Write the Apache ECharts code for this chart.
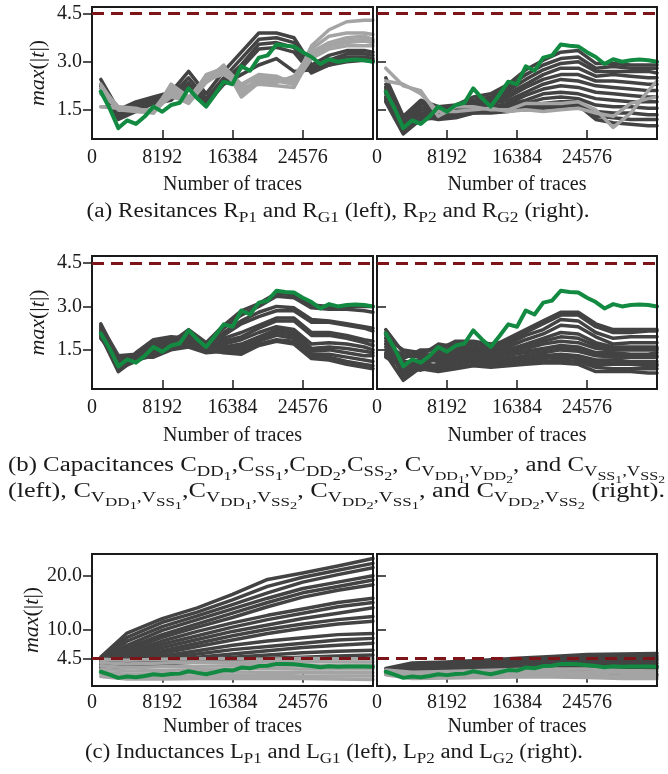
<!DOCTYPE html>
<html>
<head>
<meta charset="utf-8">
<script src="https://cdn.jsdelivr.net/npm/echarts@6/dist/echarts.min.js"></script>
<style>
html,body{margin:0;padding:0;background:#fff;}
#eChart{width:668px;height:774px;}
</style>
</head>
<body>
<div id="eChart"></div>
<script>
// number of traces (x positions)
var xsFine = [1024,2048,3072,4096,5120,6144,7168,8192,9216,10240,11264,12288,13312,14336,15360,16384,
  17408,18432,19456,20480,21504,22528,23552,24576,25600,26624,27648,28672,29696,30720,31744,32768];
var xsMid = [1024,3072,5120,7168,9216,11264,13312,15360,17408,19456,21504,23552,25600,27648,29696,31744,32768];
var xsCoarse = [1024,4096,8192,12288,16384,20480,24576,28672,32768];

var xTicks = [0, 8192, 16384, 24576];
var yTicksAB = [1.5, 3.0, 4.5];
var yTicksC = [4.5, 10.0, 20.0];
var threshold = 4.5;

// the green trace (same in every panel)
var greenTrace = [2.07,1.55,0.93,1.17,1.06,1.29,1.60,1.44,1.65,1.72,2.17,1.86,1.60,1.98,2.38,2.30,
  2.86,2.72,3.13,3.20,3.54,3.50,3.48,3.30,3.15,2.93,3.08,3.00,3.05,3.07,3.05,3.00];

// (a) left: R_P1 / R_G1
var aLeftDark = [
  [2.45,1.50,1.75,1.90,2.05,2.70,2.00,2.70,3.30,3.90,3.90,3.75,2.90,3.20,3.35,3.35,3.30],
  [2.30,1.35,1.65,1.85,1.95,2.50,1.85,2.50,3.10,3.70,3.75,3.60,2.80,3.05,3.25,3.25,3.20],
  [2.20,1.25,1.55,1.80,1.90,2.35,1.70,2.40,2.90,3.55,3.60,3.45,2.75,2.95,3.15,3.15,3.10],
  [2.20,1.30,1.50,1.75,1.85,2.20,1.75,2.30,2.60,2.90,3.10,2.70,2.75,2.90,3.05,3.10,3.05],
  [2.25,1.20,1.45,1.70,1.80,2.30,1.65,2.30,2.80,3.40,3.45,3.30,2.65,2.90,3.00,3.05,3.00]
];
var aLeftLight = [
  [1.60,1.55,1.50,1.50,1.90,1.80,2.50,2.85,2.30,2.60,2.55,2.30,3.50,4.00,4.25,4.30,4.30],
  [2.30,1.50,1.45,1.45,2.10,1.75,2.60,2.80,2.10,2.45,2.45,2.45,3.40,3.80,3.90,3.90,3.85],
  [2.20,1.60,1.55,1.40,2.30,1.90,2.40,2.90,1.90,2.35,2.35,2.55,3.30,3.60,3.75,3.80,3.70],
  [2.00,1.55,1.50,1.45,1.95,1.70,2.35,2.70,2.20,2.30,2.25,2.20,3.20,3.50,3.60,3.65,3.60],
  [1.60,1.60,1.45,1.40,2.00,1.85,2.55,2.75,2.00,2.50,2.40,2.30,3.10,3.40,3.50,3.50,3.50],
  [2.10,1.50,1.50,1.50,2.20,1.80,2.45,2.60,2.25,2.55,2.50,2.40,3.25,3.55,3.65,3.70,3.65]
];
// (a) right: R_P2 / R_G2
var aRightDark = [
  [2.50,1.30,1.80,1.60,1.65,1.90,2.00,2.30,2.75,3.05,3.30,3.35,2.95,2.95,2.90,2.90,2.90],
  [2.30,1.20,1.70,1.55,1.60,1.80,1.90,2.20,2.60,2.90,3.10,3.15,2.80,2.85,2.80,2.80,2.80],
  [2.20,1.10,1.60,1.50,1.55,1.75,1.85,2.10,2.45,2.75,2.95,3.00,2.70,2.70,2.70,2.70,2.65],
  [2.10,1.00,1.50,1.45,1.50,1.70,1.80,2.00,2.30,2.60,2.80,2.80,2.55,2.60,2.55,2.50,2.50],
  [2.00,0.95,1.40,1.40,1.45,1.65,1.75,1.90,2.20,2.45,2.60,2.60,2.40,2.40,2.35,2.30,2.30],
  [1.90,0.90,1.35,1.35,1.40,1.60,1.70,1.80,2.05,2.30,2.45,2.40,2.25,2.20,2.15,2.10,2.10],
  [1.85,0.85,1.30,1.30,1.35,1.55,1.60,1.70,1.95,2.15,2.25,2.20,2.05,2.00,1.95,1.90,1.90],
  [1.80,0.80,1.25,1.30,1.30,1.50,1.55,1.65,1.80,2.00,2.05,2.00,1.85,1.80,1.75,1.75,1.75],
  [1.75,0.75,1.20,1.25,1.30,1.45,1.50,1.60,1.70,1.85,1.90,1.85,1.65,1.60,1.60,1.55,1.55],
  [1.90,0.80,1.30,1.20,1.25,1.40,1.45,1.50,1.60,1.70,1.75,1.75,1.45,1.40,1.40,1.35,1.35],
  [2.10,0.90,1.25,1.25,1.30,1.40,1.40,1.45,1.55,1.60,1.65,1.70,1.30,1.25,1.20,1.20,1.20],
  [2.20,1.00,1.30,1.30,1.35,1.45,1.45,1.50,1.50,1.55,1.60,1.65,1.20,1.10,1.05,1.00,1.00]
];
var aRightLight = [
  [2.80,2.25,2.10,1.30,1.60,1.60,1.50,1.50,1.70,1.70,1.70,1.75,1.50,0.95,1.40,2.10,2.40],
  [2.40,2.30,2.00,1.45,1.45,1.50,1.55,1.45,1.50,1.45,1.50,1.55,1.40,1.30,1.70,1.85,1.90]
];

// (b) left: capacitances
var bLeftDark = [
  [2.10,1.00,1.20,1.60,1.75,2.20,1.75,2.35,2.85,3.10,3.45,3.40,3.05,3.00,3.00,3.00,3.00],
  [2.20,0.95,1.25,1.55,1.70,2.10,1.70,2.25,2.70,3.00,3.35,3.30,2.95,2.90,2.90,2.85,2.80],
  [2.30,1.10,1.30,1.70,1.80,2.00,1.60,2.10,2.50,2.80,3.00,2.95,2.55,2.50,2.40,2.30,2.25],
  [2.00,1.05,1.35,1.80,1.85,2.05,1.65,2.00,2.40,2.65,2.85,2.85,2.45,2.45,2.35,2.25,2.15],
  [2.40,1.20,1.25,1.75,1.90,1.95,1.55,1.90,2.10,2.35,2.60,2.60,2.10,2.10,2.00,1.85,1.80],
  [2.25,0.80,1.40,1.85,1.95,1.90,1.50,1.80,1.95,2.25,2.50,2.50,2.00,2.00,1.90,1.75,1.65],
  [1.90,1.15,1.30,1.65,1.65,1.85,1.45,1.70,1.85,2.10,2.30,2.20,1.70,1.75,1.70,1.60,1.50],
  [2.00,0.75,1.20,1.50,1.60,1.80,1.50,1.60,1.70,1.95,2.20,2.10,1.55,1.60,1.55,1.45,1.40],
  [2.35,1.30,1.35,1.45,1.55,1.75,1.55,1.55,1.60,1.90,2.10,2.00,1.45,1.50,1.40,1.30,1.30],
  [2.10,0.90,1.15,1.30,1.60,1.65,1.45,1.50,1.50,1.80,2.00,1.90,1.35,1.35,1.25,1.15,1.10],
  [1.95,1.00,1.25,1.25,1.50,1.60,1.40,1.45,1.45,1.70,1.85,1.80,1.25,1.25,1.10,1.00,0.95],
  [2.15,0.85,1.10,1.40,1.55,1.70,1.50,1.40,1.35,1.65,1.80,1.70,1.20,1.15,1.00,0.90,0.85]
];
// (b) right
var bRightDark = [
  [1.90,1.50,1.40,1.60,1.70,1.70,1.60,1.90,2.20,2.50,2.80,2.80,2.40,2.20,2.20,2.20,2.20],
  [1.70,1.20,1.50,1.50,1.80,1.80,1.70,1.80,2.10,2.40,2.70,2.70,2.30,2.10,2.10,2.15,2.15],
  [2.20,1.40,1.30,1.70,1.60,1.75,1.60,1.70,2.00,2.20,2.55,2.50,2.10,1.90,1.95,1.95,1.95],
  [1.50,0.90,1.20,1.40,1.65,1.60,1.50,1.60,1.85,2.05,2.35,2.30,1.95,1.70,1.75,1.75,1.75],
  [1.70,1.30,1.25,1.45,1.55,1.55,1.45,1.50,1.65,1.80,1.95,1.90,1.65,1.55,1.55,1.55,1.55],
  [2.10,0.60,1.10,1.30,1.50,1.50,1.40,1.50,1.70,1.90,2.10,2.05,1.75,1.60,1.60,1.60,1.60],
  [1.30,1.00,1.00,1.20,1.40,1.45,1.30,1.40,1.55,1.70,1.80,1.75,1.55,1.50,1.50,1.50,1.50],
  [1.80,0.70,1.20,1.10,1.30,1.35,1.25,1.30,1.45,1.55,1.65,1.60,1.40,1.40,1.35,1.35,1.40],
  [1.90,1.10,1.05,1.25,1.35,1.40,1.35,1.35,1.40,1.50,1.60,1.55,1.35,1.30,1.30,1.30,1.30],
  [1.40,1.10,0.90,1.00,1.20,1.30,1.20,1.20,1.30,1.40,1.50,1.45,1.30,1.25,1.25,1.25,1.25],
  [2.00,0.50,1.10,0.90,1.10,1.20,1.10,1.10,1.20,1.30,1.35,1.30,1.15,1.15,1.10,1.10,1.10],
  [1.25,0.90,0.80,0.95,1.05,1.15,1.00,1.10,1.15,1.25,1.30,1.25,1.10,1.05,1.05,1.00,1.00],
  [1.60,0.80,0.95,0.85,1.00,1.10,1.05,1.05,1.10,1.20,1.25,1.20,1.00,1.00,1.00,0.95,0.95],
  [1.35,0.45,0.90,0.80,0.90,1.00,0.95,1.00,1.05,1.10,1.15,1.10,0.90,0.85,0.85,0.85,0.85],
  [1.50,0.70,0.85,0.75,0.85,0.95,0.90,0.95,1.00,1.05,1.05,1.00,0.75,0.75,0.75,0.70,0.70]
];

// (c) left: L_P1 / L_G1
var cLeftDark = [
  [4.8,9.3,12.0,14.0,16.5,19.3,20.5,21.8,23.2],
  [4.5,8.5,11.3,13.2,15.5,18.0,19.7,21.0,22.3],
  [4.2,7.8,10.5,12.5,14.6,16.8,18.8,20.2,21.5],
  [4.0,7.0,9.8,11.8,13.8,15.8,17.6,18.8,20.0],
  [3.8,6.5,9.0,11.0,13.0,15.0,16.8,18.0,19.2],
  [3.6,6.0,8.5,10.4,12.2,14.2,16.0,17.3,18.3],
  [3.5,5.6,7.8,9.6,11.2,12.6,13.8,15.0,15.8],
  [3.4,5.2,7.2,8.8,10.4,11.8,13.0,14.2,15.0],
  [3.3,4.8,6.6,8.1,9.6,10.8,12.0,13.0,14.0],
  [3.2,4.5,6.0,7.4,8.8,10.0,11.0,11.8,12.4],
  [3.1,4.2,5.5,6.8,8.0,9.2,10.2,11.0,11.5],
  [3.0,3.9,5.0,6.0,7.0,7.8,8.4,9.0,9.2],
  [2.9,3.6,4.6,5.4,6.2,6.8,7.4,8.0,8.3],
  [2.8,3.4,4.2,4.8,5.4,6.0,6.6,7.0,7.4],
  [2.7,3.2,3.8,4.3,4.8,5.2,5.6,5.9,6.1],
  [2.6,3.0,3.5,3.9,4.3,4.6,4.8,5.0,5.2]
];
var cLeftLight = [
  [4.4,4.2,4.4,4.5,4.5,4.4,4.6,4.5,4.5],
  [3.8,3.5,3.7,3.9,3.8,3.9,4.0,3.9,3.9],
  [3.2,2.8,3.0,3.1,3.2,3.3,3.3,3.2,3.3],
  [2.6,2.2,2.3,2.5,2.6,2.7,2.6,2.6,2.6],
  [2.0,1.6,1.7,1.9,2.0,2.0,2.0,1.9,1.9],
  [1.6,1.1,1.2,1.3,1.4,1.4,1.3,1.3,1.3],
  [1.2,0.7,0.7,0.8,0.8,0.8,0.8,0.7,0.6]
];
// (c) right: L_P2 / L_G2
var cRightDark = [
  [2.7,3.7,3.9,4.2,4.6,4.9,5.3,5.4,5.5],
  [2.5,3.4,3.6,3.9,4.2,4.5,4.8,5.0,5.0],
  [2.3,3.1,3.3,3.6,3.9,4.1,4.4,4.5,4.6],
  [2.1,2.8,3.0,3.3,3.6,3.8,4.0,4.1,4.2],
  [2.0,2.5,2.7,3.0,3.2,3.4,3.6,3.6,3.7],
  [1.9,2.2,2.4,2.6,2.8,3.0,3.1,3.2,3.2],
  [1.8,1.9,2.0,2.2,2.3,2.5,2.6,2.6,2.7],
  [1.6,1.3,1.4,1.5,1.6,1.7,1.6,1.5,1.5]
];
var cRightLight = [
  [2.4,2.0,2.1,2.3,2.5,2.6,2.6,2.3,2.2],
  [2.0,1.5,1.6,1.8,2.0,2.1,2.0,1.8,1.7],
  [1.7,1.1,1.2,1.4,1.5,1.6,1.5,1.2,1.2],
  [1.5,0.8,0.9,1.0,1.1,1.1,1.0,0.8,0.8]
];

var FONT = 'Liberation Serif';
var INK = '#1a1a1a';
var DARK = '#434343';
var LIGHT = '#a4a4a4';
var GREEN = '#138a41';
var RED = '#7d1518';

var panels = [
  {top: 7,   height: 132, min: 0.59, max: 4.71, ticks: yTicksAB, nameGap: 36, margin: 9,
   left: [aLeftDark, xsMid, aLeftLight, xsMid], right: [aRightDark, xsMid, aRightLight, xsMid]},
  {top: 256, height: 133, min: 0.15, max: 4.74, ticks: yTicksAB, nameGap: 37, margin: 9,
   left: [bLeftDark, xsMid, [], xsMid], right: [bRightDark, xsMid, [], xsMid]},
  {top: 554, height: 132, min: -0.59, max: 24.05, ticks: yTicksC, nameGap: 31, margin: 7,
   left: [cLeftDark, xsCoarse, cLeftLight, xsCoarse], right: [cRightDark, xsCoarse, cRightLight, xsCoarse]}
];

var grids = [], xAxes = [], yAxes = [], series = [];

function traceSeries(list, xs, color, width, ax) {
  list.forEach(function (ys) {
    series.push({
      type: 'line', xAxisIndex: ax, yAxisIndex: ax, symbol: 'none', silent: true,
      data: xs.map(function (x, i) { return [x, ys[i]]; }),
      lineStyle: {color: color, width: width, cap: 'round', join: 'round'}
    });
  });
}

panels.forEach(function (p) {
  [0, 1].forEach(function (side) {
    var ax = grids.length;
    grids.push({
      left: side === 0 ? 92 : 377, width: side === 0 ? 281 : 280,
      top: p.top, height: p.height,
      show: true, borderColor: INK, borderWidth: 2, z: 5
    });
    xAxes.push({
      gridIndex: ax, type: 'value', min: 0, max: 32768,
      name: 'Number of traces', nameLocation: 'middle', nameGap: p.nameGap,
      nameTextStyle: {fontFamily: FONT, fontSize: 20, color: INK},
      axisLine: {show: false}, splitLine: {show: false},
      axisTick: {show: true, inside: true, length: 9, customValues: xTicks,
        lineStyle: {color: INK, width: 1.5}},
      axisLabel: {customValues: xTicks, fontFamily: FONT, fontSize: 20, color: INK, margin: p.margin,
        formatter: function (v) { return String(v); }}
    });
    yAxes.push({
      gridIndex: ax, type: 'value', min: p.min, max: p.max,
      name: side === 0 ? '{i|max}(|{i|t}|)' : '', nameLocation: 'middle', nameGap: 43,
      nameRotate: 90,
      nameTextStyle: {fontFamily: FONT, fontSize: 22, color: INK,
        rich: {i: {fontFamily: FONT, fontSize: 22, fontStyle: 'italic', color: INK}}},
      axisLine: {show: false}, splitLine: {show: false},
      axisTick: {show: true, inside: side === 1, length: 9, customValues: p.ticks,
        lineStyle: {color: INK, width: 1.5}},
      axisLabel: {show: side === 0, customValues: p.ticks, fontFamily: FONT, fontSize: 20,
        color: INK, margin: 10, formatter: function (v) { return v.toFixed(1); }}
    });
    var cfg = side === 0 ? p.left : p.right;
    traceSeries(cfg[0], cfg[1], DARK, 3.5, ax);
    traceSeries(cfg[2], cfg[3], LIGHT, 3.5, ax);
    series.push({
      type: 'line', xAxisIndex: ax, yAxisIndex: ax, symbol: 'none', silent: true, z: 3,
      data: xsFine.map(function (x, i) { return [x, greenTrace[i]]; }),
      lineStyle: {color: GREEN, width: 4, cap: 'round', join: 'round'}
    });
    series.push({
      type: 'line', xAxisIndex: ax, yAxisIndex: ax, data: [], z: 4, silent: true,
      markLine: {symbol: 'none', silent: true, animation: false, label: {show: false},
        lineStyle: {color: RED, width: 3, type: [12, 7]},
        data: [{yAxis: threshold}]}
    });
  });
});

// captions: measured, then stretched horizontally to the width they take in the figure
var SIZES = {base: 20, s: 15, t: 13, u: 11};
var measureCtx = document.createElement('canvas').getContext('2d');
function textWidth(str, size) {
  measureCtx.font = size + 'px "' + FONT + '"';
  return measureCtx.measureText(str).width;
}
function naturalWidth(text) {
  var re = /\{(\w)\|([^}]*)\}|([^{]+)/g, m, w = 0;
  while ((m = re.exec(text))) {
    w += m[1] ? textWidth(m[2], SIZES[m[1]]) : textWidth(m[3], SIZES.base);
  }
  return w;
}
function caption(text, x, y, align, target) {
  return {type: 'text', x: x, y: y, silent: true, scaleX: target / naturalWidth(text),
    style: {text: text, fontFamily: FONT, fontSize: SIZES.base, fill: INK,
      align: align, verticalAlign: 'middle', textAlign: align, textVerticalAlign: 'middle',
      rich: {
        s: {fontFamily: FONT, fontSize: SIZES.s, lineHeight: SIZES.s, padding: [12, 0, 0, 0], color: INK},
        t: {fontFamily: FONT, fontSize: SIZES.t, lineHeight: SIZES.t, padding: [21, 0, 0, 0], color: INK},
        u: {fontFamily: FONT, fontSize: SIZES.u, lineHeight: SIZES.u, padding: [29, 0, 0, 0], color: INK}
      }}};
}

var capA = '(a) Resitances R{s|P1} and R{s|G1} (left), R{s|P2} and R{s|G2} (right).';
var capB1 = '(b) Capacitances C{s|DD}{t|1},C{s|SS}{t|1},C{s|DD}{t|2},C{s|SS}{t|2}, C{s|V}{t|DD}{u|1}{s|,V}{t|DD}{u|2}, and C{s|V}{t|SS}{u|1}{s|,V}{t|SS}{u|2}';
var capB2 = '(left), C{s|V}{t|DD}{u|1}{s|,V}{t|SS}{u|1},C{s|V}{t|DD}{u|1}{s|,V}{t|SS}{u|2}, C{s|V}{t|DD}{u|2}{s|,V}{t|SS}{u|1}, and C{s|V}{t|DD}{u|2}{s|,V}{t|SS}{u|2} (right).';
var capC = '(c) Inductances L{s|P1} and L{s|G1} (left), L{s|P2} and L{s|G2} (right).';

var option = {
  animation: false,
  backgroundColor: '#fff',
  grid: grids, xAxis: xAxes, yAxis: yAxes, series: series,
  graphic: [
    caption(capA, 338, 212, 'center', 503),
    caption(capB1, 8, 466, 'left', 657),
    caption(capB2, 8, 492, 'left', 657),
    caption(capC, 334, 753, 'center', 498)
  ]
};

var myChart = echarts.init(document.getElementById('eChart'));
myChart.setOption(option);
</script>
</body>
</html>
